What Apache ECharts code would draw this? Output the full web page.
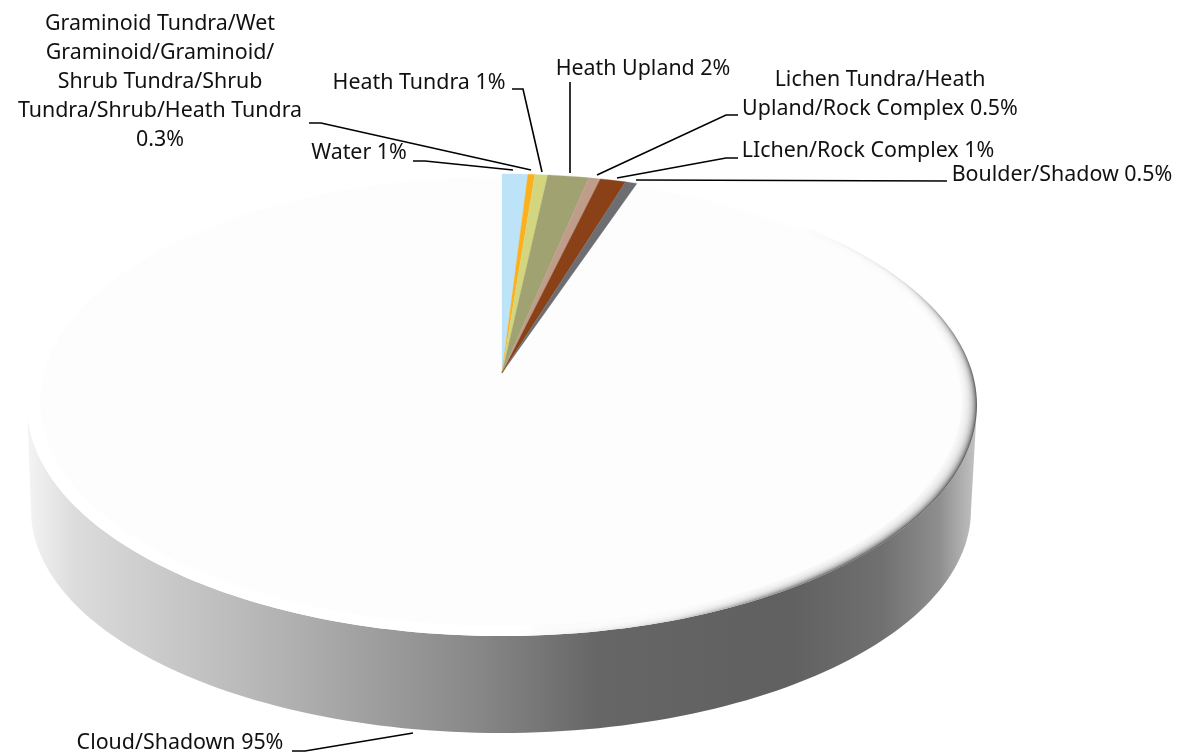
<!DOCTYPE html>
<html><head><meta charset="utf-8">
<style>html,body{margin:0;padding:0;background:#fff}#c{width:1179px;height:753px}</style>
<script src="https://cdn.jsdelivr.net/npm/echarts@6/dist/echarts.min.js"></script>
</head><body><div id="c"></div>
<script>
// Slice shares, clockwise from 12 o'clock
const categories = ['Water','Graminoid','Heath Tundra','Heath Upland','Lichen Tundra','Lichen Rock','Boulder','Cloud'];
const shares = [1.0,0.27,0.5,1.6,0.45,1.0,0.45,94.73];
const colors = ['#bde3f8','#fbb01f','#d3d67e','#a1a272','#c09d8b','#8b4117','#6d6e71','#fdfdfd'];
const labelTexts = [
 'Water 1%',
 'Graminoid Tundra/Wet\nGraminoid/Graminoid/\nShrub Tundra/Shrub\nTundra/Shrub/Heath Tundra\n0.3%',
 'Heath Tundra 1%',
 'Heath Upland 2%',
 'Lichen Tundra/Heath\nUpland/Rock Complex 0.5%',
 'LIchen/Rock Complex 1%',
 'Boulder/Shadow 0.5%',
 'Cloud/Shadown 95%'
];
// label layout: text centre + leader line
const labelX = [359,160,419,643,880,868,1062,180];
const labelY = [153,82,83,69,94,151,175,743];
const leaders = [
 [[413,161],[425,161],[513,170]],
 [[309,123],[321,123],[531,170]],
 [[512,89],[523,89],[542,172]],
 [[570,82],[570,173]],
 [[738,115],[726,115],[597,175]],
 [[738,158],[726,158],[617,178]],
 [[947,181],[636,180]],
 [[292,751],[305,751],[413,733]]
];
const APEX=[502,373], K=0.14, A=227, B=470, R=100;
function persp(p){ // polar pixel -> perspective-projected disc pixel
  const u=(p[0]-APEX[0])/R, v=(APEX[1]-p[1])/R, d=1+K*v;
  return [APEX[0]+B*u/d, APEX[1]-A*v/d];
}
function ell(e,a){return [e.cx+e.rx*Math.cos(a),e.cy+e.ry*Math.sin(a)];}
const TOP={cx:502,cy:405,rx:475,ry:231}, BOT={cx:501,cy:510,rx:470,ry:223};
const FACE={cx:501,cy:401,rx:461,ry:224};

let acc=0; const rows=shares.map((s,i)=>{const r=[acc,acc+s,i];acc+=s;return r;});

function decor(){
  const side=[],top=[];
  for(let i=0;i<=120;i++){side.push(ell(TOP,Math.PI*i/120));}
  for(let i=120;i>=0;i--){side.push(ell(BOT,Math.PI*i/120));}
  for(let i=0;i<240;i++){top.push(ell(TOP,2*Math.PI*i/240));}
  const gs=[[0,'#f4f4f4'],[0.05,'#dcdcdc'],[0.1,'#d2d2d2'],[0.29,'#aeaeae'],[0.48,'#868686'],[0.6,'#666666'],[0.8,'#606060'],[0.9,'#707070'],[0.96,'#8e8e8e'],[1,'#c4c4c4']]
    .map(s=>({offset:s[0],color:s[1]}));
  const gt=[[0,'#ffffff'],[0.68,'#ffffff'],[0.8,'#dddddd'],[0.86,'#999999'],[0.92,'#666666'],[1,'#666666']].map(s=>({offset:s[0],color:s[1]}));
  const out=[
    {type:'polygon',shape:{points:side},style:{fill:new echarts.graphic.LinearGradient(0,0,1,0,gs)}},
    {type:'polygon',shape:{points:top},style:{fill:new echarts.graphic.LinearGradient(0,0,0.85,1.2,gt)}}
  ];
  // soft bevel: stacked translucent white rings between the rim and the face
  const N=16;
  for(let r=1;r<=N;r++){
    const t=r/N, e={cx:TOP.cx+(FACE.cx-TOP.cx)*t,cy:TOP.cy+(FACE.cy-TOP.cy)*t,rx:TOP.rx+(FACE.rx-TOP.rx)*t,ry:TOP.ry+(FACE.ry-TOP.ry)*t};
    const pts=[];
    for(let i=0;i<200;i++){pts.push(ell(e,2*Math.PI*i/200));}
    out.push({type:'polygon',shape:{points:pts},style:{fill:'rgba(255,255,255,0.2)'}});
  }
  return out;
}

function renderSlice(params,api){
  const s=api.value(0),e=api.value(1),i=api.value(2);
  const isCloud=categories[i]==='Cloud';
  const n=Math.max(2,Math.ceil((e-s)*3));
  const pts=[persp(api.coord([0,0]))];
  const arc=[];
  for(let k=0;k<=n;k++){arc.push(persp(api.coord([1,s+(e-s)*k/n])));}
  if(!isCloud){
    return {type:'polygon',shape:{points:pts.concat(arc)},style:{fill:colors[i],stroke:colors[i],lineWidth:0.3}};
  }
  const inset=arc.map(p=>[FACE.cx+(p[0]-TOP.cx)*FACE.rx/TOP.rx,FACE.cy+(p[1]-TOP.cy)*FACE.ry/TOP.ry]);
  return {type:'group',children:decor().concat([
    {type:'polygon',shape:{points:pts.concat(inset)},style:{fill:colors[i]}}
  ])};
}
function renderLabel(params,api){
  const i=api.value(0);
  return {type:'group',children:[
    {type:'polyline',shape:{points:leaders[i]},style:{stroke:'#000',lineWidth:1.6,fill:null}},
    {type:'text',x:labelX[i],y:labelY[i],style:{text:labelTexts[i],fill:'#111',fontFamily:'"Noto Sans"',fontSize:21.4,lineHeight:29,align:'center',verticalAlign:'middle'}}
  ]};
}
const order=[7,0,1,2,3,4,5,6];
const chart=echarts.init(document.getElementById('c'),null,{renderer:'canvas'});
chart.setOption({
  animation:false,backgroundColor:'#fff',
  polar:{center:APEX,radius:R},
  angleAxis:{type:'value',min:0,max:100,startAngle:90,clockwise:true,show:false},
  radiusAxis:{type:'value',min:0,max:1,show:false},
  series:[
    {type:'custom',coordinateSystem:'polar',silent:true,renderItem:renderSlice,clip:false,
     data:order.map(i=>({name:categories[i],value:rows[i]})),encode:{radius:2,angle:1}},
    {type:'custom',coordinateSystem:'none',silent:true,renderItem:renderLabel,z:5,
     data:labelTexts.map((t,i)=>[i])}
  ]
});
</script></body></html>
